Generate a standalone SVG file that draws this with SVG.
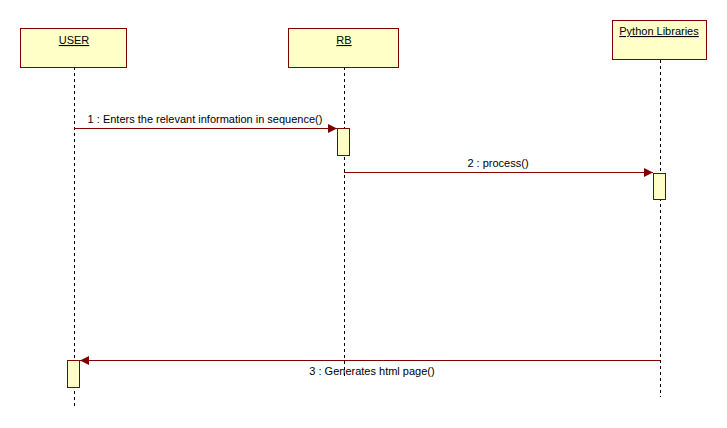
<svg xmlns="http://www.w3.org/2000/svg" width="727" height="428" viewBox="0 0 727 428">
  <style>
    .box { fill: #FFFFC8; stroke: #800000; stroke-width: 1; }
    .act { fill: #FFFFC8; stroke: #800000; stroke-width: 1; }
    .life { stroke: #000; stroke-width: 1; stroke-dasharray: 3 3; fill: none; }
    .msg { stroke: #800000; stroke-width: 1; fill: none; }
    .name { font-family: "Liberation Sans", Arial, sans-serif; font-size: 11px; fill: #000; text-decoration: underline; text-anchor: middle; }
    .label { font-family: "Liberation Sans", Arial, sans-serif; font-size: 11px; fill: #000; text-anchor: middle; }
  </style>
  <defs>
    <marker id="head" markerWidth="10" markerHeight="10" refX="9" refY="4.5" orient="auto" markerUnits="userSpaceOnUse">
      <path d="M0,0 L9,4.5 L0,9 Z" fill="#800000"/>
    </marker>
  </defs>
  <rect width="727" height="428" fill="#fff"/>

  <!-- lifelines -->
  <g id="lifelines">
    <line class="life" x1="74.5" y1="67" x2="74.5" y2="408"/>
    <line class="life" x1="344.5" y1="67" x2="344.5" y2="376"/>
    <line class="life" x1="660.5" y1="60" x2="660.5" y2="397"/>
  </g>

  <g id="user">
    <rect class="box" x="20.5" y="28.5" width="106" height="39"/>
    <text class="name" x="74" y="44">USER</text>
    <rect class="act" x="67.5" y="360.5" width="12" height="27"/>
  </g>

  <g id="rb">
    <rect class="box" x="288.5" y="28.5" width="110" height="39"/>
    <text class="name" x="344" y="44">RB</text>
    <rect class="act" x="337.5" y="128.5" width="12" height="27"/>
  </g>

  <g id="python">
    <rect class="box" x="612.5" y="20.5" width="94" height="39"/>
    <text class="name" x="659" y="35">Python Libraries</text>
    <rect class="act" x="653.5" y="173.5" width="12" height="26"/>
  </g>

  <!-- messages -->
  <g id="connectors">
    <line class="msg" x1="74" y1="128.5" x2="337" y2="128.5" marker-end="url(#head)"/>
    <text class="label" x="205" y="123">1 : Enters the relevant information in sequence()</text>
    <line class="msg" x1="344" y1="172.5" x2="653" y2="172.5" marker-end="url(#head)"/>
    <text class="label" x="498" y="167">2 : process()</text>
    <line class="msg" x1="660" y1="360.5" x2="80" y2="360.5" marker-end="url(#head)"/>
    <text class="label" x="372" y="375">3 : Generates html page()</text>
  </g>
</svg>
